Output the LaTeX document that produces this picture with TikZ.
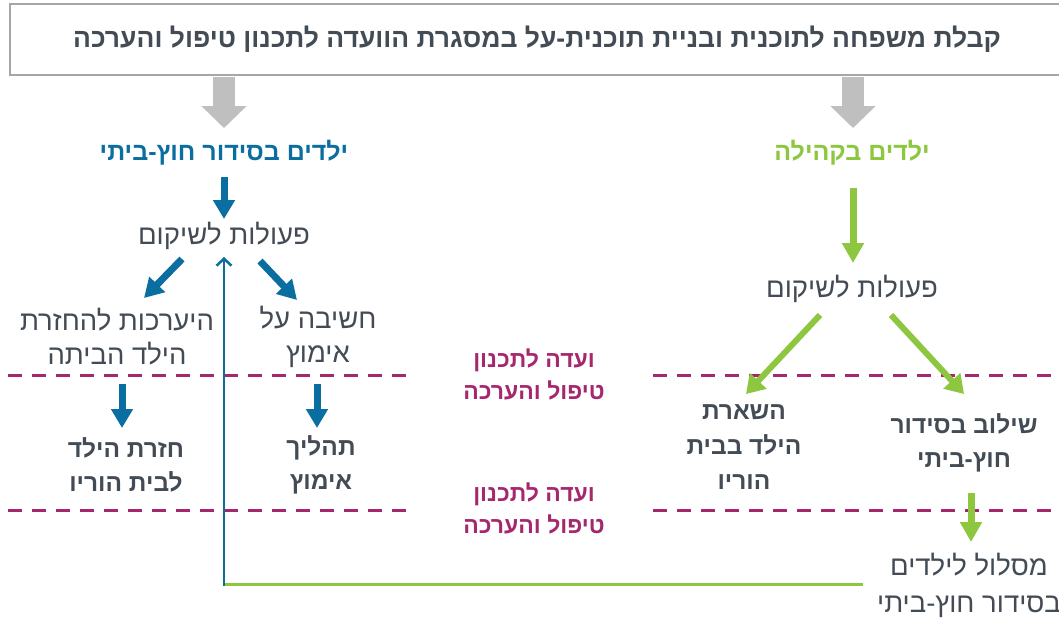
\documentclass[tikz,border=0pt]{standalone}
\usepackage{fontspec}
\setmainfont{Liberation Sans}
\newfontfamily\hebfont[Script=Hebrew]{Liberation Sans}
\TeXXeTstate=1
\usetikzlibrary{arrows.meta,calc}
\newcommand{\heb}[1]{\beginR #1\endR}
\definecolor{myblue}{HTML}{0A6EA0}
\definecolor{mygreen}{HTML}{8DC63F}
\definecolor{mymag}{HTML}{A5276E}
\definecolor{tgray}{HTML}{434C55}
\definecolor{agray}{HTML}{BFBFBF}
\definecolor{bgray}{HTML}{A6A6A6}
\tikzset{
  txt/.style={font=\hebfont\fontsize{27.5}{34}\selectfont, text=tgray, align=center, inner sep=0pt},
  btxt/.style={font=\hebfont\bfseries\fontsize{24.5}{34}\selectfont, text=tgray, align=center, inner sep=0pt},
  ttl/.style={font=\hebfont\bfseries\fontsize{25}{34}\selectfont, align=center, inner sep=0pt},
  mtxt/.style={font=\hebfont\bfseries\fontsize{23}{32}\selectfont, text=mymag, align=center, inner sep=0pt},
  grayarr/.style={draw=agray, line width=22pt, -{Triangle[width=44pt,length=22pt]}},
  bluearr/.style={draw=myblue, line width=7pt, -{Triangle[width=21pt,length=19pt]}},
  greenarr/.style={draw=mygreen, line width=7pt, -{Triangle[width=21pt,length=20pt]}},
  greendiag/.style={draw=mygreen, line width=6pt, -{Triangle[width=22pt,length=18pt]}},
  committee/.style={draw=mymag, line width=3pt, dash pattern=on 14pt off 10pt},
}
\begin{document}
\begin{tikzpicture}[x=1pt,y=-1pt]
\useasboundingbox (0,0) rectangle (1059,618);
\fill[white] (0,0) rectangle (1059,618);
% top box
\node[draw=bgray, line width=1.2pt, minimum width=1060pt, minimum height=71pt, inner sep=0pt,
  font=\hebfont\bfseries\fontsize{26.5}{30}\selectfont, text=tgray] (box) at (540,39.5)
  {\hspace*{-6pt}\heb{קבלת משפחה לתוכנית ובניית תוכנית-על במסגרת הוועדה לתכנון טיפול והערכה}};
% titles
\node[ttl, text=myblue] (lt) at (224,153) {\heb{ילדים בסידור חוץ-ביתי}};
\node[ttl, text=mygreen] (rt) at (852,153) {\heb{ילדים בקהילה}};
% left branch
\node[txt] (lp) at (224,236) {\heb{פעולות לשיקום}};
\node[txt] (l1) at (117,337) {\heb{היערכות להחזרת}\\\heb{הילד הביתה}};
\node[txt] (l2) at (318,337) {\heb{חשיבה על}\\\heb{אימוץ}};
\node[btxt] (l3) at (126,464.5) {\heb{חזרת הילד}\\\heb{לבית הוריו}};
\node[btxt] (l4) at (321,464.5) {\heb{תהליך}\\\heb{אימוץ}};
% right branch
\node[txt] (rp) at (852,289) {\heb{פעולות לשיקום}};
\node[btxt, font=\hebfont\bfseries\fontsize{24.5}{35}\selectfont] (r1) at (744,447) {\heb{השארת}\\\heb{הילד בבית}\\\heb{הוריו}};
\node[btxt] (r2) at (964,443) {\heb{שילוב בסידור}\\\heb{חוץ-ביתי}};
\node[txt, font=\hebfont\fontsize{27.5}{37}\selectfont] (mas) at (969,585.5) {\heb{מסלול לילדים}\\\heb{בסידור חוץ-ביתי}};
% committee labels
\node[mtxt] (c1) at (534,374) {\heb{ועדה לתכנון}\\\heb{טיפול והערכה}};
\node[mtxt] (c2) at (534,508) {\heb{ועדה לתכנון}\\\heb{טיפול והערכה}};
% dashed committee lines
\draw[committee] (8,375) -- (415,375);
\draw[committee] (653,375) -- (1065,375);
\draw[committee] (8,510) -- (415,510);
\draw[committee] (653,510) -- (1065,510);
% gray arrows
\draw[grayarr] ($(box.south -| lt)+(0,1)$) -- ($(lt)+(0,-25)$);
\draw[grayarr] ($(box.south -| rt)+(1,1)$) -- ($(rt)+(1,-25)$);
% blue arrows
\draw[bluearr] ($(lt)+(0,24)$) -- ($(lp)+(0,-17)$);
\draw[bluearr] ($(lp)+(-42,23)$) -- ($(l1)+(27,-39)$);
\draw[bluearr] ($(lp)+(36,25)$) -- ($(l2)+(-21,-37)$);
\draw[bluearr] ($(l1)+(5,47)$) -- ($(l3)+(-4,-36.5)$);
\draw[bluearr] ($(l2)+(-1,47)$) -- ($(l4)+(-4,-36.5)$);
% green arrows
\draw[greenarr] ($(rt)+(1,35)$) -- ($(rp)+(1,-26)$);
\draw[greendiag] ($(rp)+(-32,26)$) -- ($(r1)+(2,-53)$);
\draw[greendiag] ($(rp)+(39,26)$) -- ($(r2)+(0,-49)$);
\draw[greenarr] ($(r2)+(7,50)$) -- ($(mas)+(2,-43.5)$);
% return path
\coordinate (cor) at ($(lp |- mas)+(0,-1.5)$);
\draw[draw=mygreen, line width=3pt] ($(mas)+(-106,-1.5)$) -- ($(cor)+(-1.5,0)$);
\draw[draw=myblue, line width=2.5pt, -{Straight Barb[width=15pt,length=7pt]}] ($(cor)+(0,2)$) -- ($(lp)+(0,21)$);
\end{tikzpicture}
\end{document}
